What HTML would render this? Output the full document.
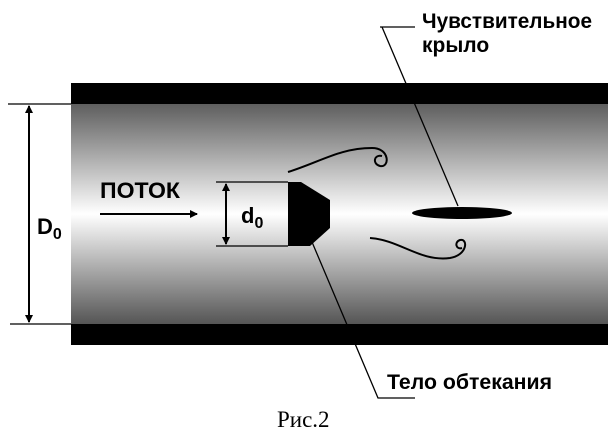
<!DOCTYPE html>
<html><head><meta charset="utf-8"><style>html,body{margin:0;padding:0;background:#fff}svg{display:block}</style></head><body>
<svg width="616" height="430" viewBox="0 0 616 430" xmlns="http://www.w3.org/2000/svg">
<defs>
<linearGradient id="g" x1="0" y1="0" x2="0" y2="1">
<stop offset="0" stop-color="#5e5e5e"/><stop offset="0.5" stop-color="#ffffff"/><stop offset="1" stop-color="#555"/>
</linearGradient>
<marker id="a" markerWidth="8" markerHeight="8" refX="7" refY="4" orient="auto-start-reverse" markerUnits="userSpaceOnUse"><path d="M0,0L8,4L0,8z" fill="#000"/></marker>
</defs>
<rect x="71" y="83" width="537" height="262" fill="#000"/>
<rect x="71" y="104" width="537" height="220" fill="url(#g)"/>
<g stroke="#000" stroke-width="1.3" fill="none">
<line x1="8" y1="104" x2="71" y2="104"/><line x1="10" y1="324" x2="71" y2="324"/>
<line x1="29" y1="106" x2="29" y2="322" marker-start="url(#a)" marker-end="url(#a)" stroke-width="2"/>
<line x1="100" y1="214" x2="197" y2="214" marker-end="url(#a)" stroke-width="2"/>
<line x1="216" y1="182" x2="288" y2="182"/><line x1="216" y1="246" x2="288" y2="246"/>
<line x1="226" y1="184" x2="226" y2="244" marker-start="url(#a)" marker-end="url(#a)" stroke-width="2"/>
<path d="M288,172 C320,162 340,148 372,148 C390,148 390,168 380,166 C372,164 374,154 382,156" stroke-width="2"/>
<path d="M370,238 C400,240 420,262 450,258 C468,255 468,238 460,240 C454,242 456,250 462,248" stroke-width="2"/>
<polyline points="380,27 415,27"/><line x1="382" y1="27" x2="458" y2="206"/>
<polyline points="312,242 378,398 415,398"/>
</g>
<polygon points="288,182 301,182 330,200 330,228 310,246 288,246" fill="#000"/>
<ellipse cx="462" cy="213" rx="50" ry="6" fill="#000"/>
<g font-family="Liberation Sans, Noto Sans CJK SC, sans-serif" font-weight="bold" fill="#000">
<text x="100" y="198" font-size="22" textLength="80" lengthAdjust="spacingAndGlyphs">ПОТОК</text>
<text x="37" y="234" font-size="22">D<tspan font-size="16" dy="5">0</tspan></text>
<text x="241" y="223" font-size="22">d<tspan font-size="16" dy="5">0</tspan></text>
<text x="422" y="28" font-size="21" textLength="170" lengthAdjust="spacingAndGlyphs">Чувствительное</text>
<text x="422" y="52" font-size="21">крыло</text>
<text x="387" y="389" font-size="21" textLength="165" lengthAdjust="spacingAndGlyphs">Тело обтекания</text>
</g>
<text x="277" y="427" font-family="Liberation Serif, serif" font-size="23">Рис.2</text>
</svg>
</body></html>
